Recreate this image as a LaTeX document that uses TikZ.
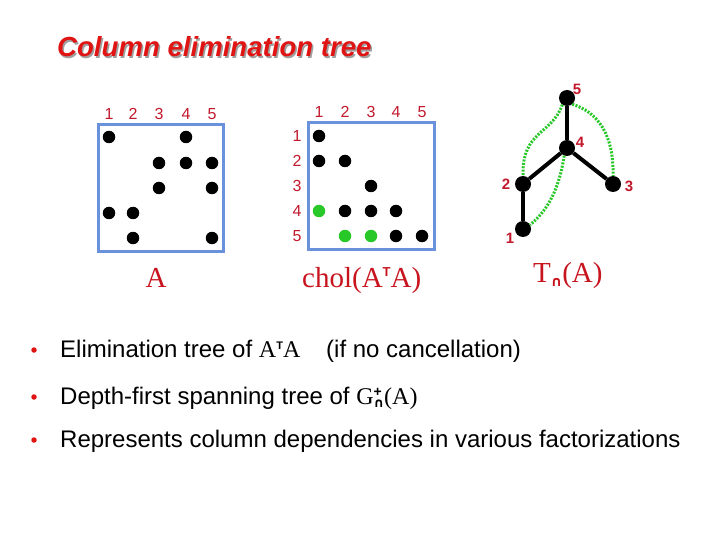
\documentclass[tikz,border=0pt]{standalone}
\usepackage{fontspec}
\setmainfont{Liberation Sans}
\newfontfamily\serif{Liberation Serif}
\newfontfamily\arial{Liberation Sans}
\newfontfamily\dejavu{DejaVu Sans}
\definecolor{titlered}{RGB}{225,20,20}
\definecolor{numred}{RGB}{195,25,45}
\definecolor{labred}{RGB}{200,20,30}
\definecolor{boxblue}{RGB}{105,145,220}
\definecolor{dotgreen}{RGB}{40,200,40}
\definecolor{shadowgray}{RGB}{160,160,160}
\newcommand{\Tsup}[2]{\raisebox{#2}{\arial\bfseries\fontsize{#1}{#1}\selectfont T}}
\newcommand{\capsub}[2]{\raisebox{-#2}{\dejavu\bfseries\fontsize{#1}{#1}\selectfont ∩}}
\tikzset{
  num/.style={text=numred, font=\fontsize{16}{16}\selectfont, inner sep=0pt},
  tnum/.style={text=numred, font=\fontsize{15}{15}\selectfont\bfseries, inner sep=0pt},
  ent/.style={circle, fill=black, minimum size=12.5pt, inner sep=0pt},
  gent/.style={ent, fill=dotgreen},
  mbox/.style={draw=boxblue, line width=3pt, inner sep=0pt},
  tnode/.style={circle, fill=black, minimum size=16pt, inner sep=0pt},
  tedge/.style={line width=4pt},
  gedge/.style={draw=dotgreen, line width=3pt, dash pattern=on 2pt off 1.4pt},
  lab/.style={text=labred, font=\serif\fontsize{29}{29}\selectfont, inner sep=0pt, anchor=base},
  bul/.style={circle, fill=titlered, minimum size=5.5pt, inner sep=0pt},
  btext/.style={font=\fontsize{24}{24}\selectfont, inner sep=0pt, anchor=base west},
  ttl/.style={font=\fontsize{27.6}{27.6}\selectfont\bfseries\itshape, inner sep=0pt, anchor=base west}
}
\begin{document}
\begin{tikzpicture}[x=1pt,y=-1pt]
\useasboundingbox[fill=white] (0,0) rectangle (720,540);
% title
\node[ttl, text=shadowgray] (titleshadow) at (58.5,58.5) {Column elimination tree};
\node[ttl, text=titlered] (title) at (57,57) {Column elimination tree};
% matrix A
\node[mbox, minimum width=125pt, minimum height=126pt] (boxA) at (160.5,188) {};
\foreach \c/\x in {1/109,2/133,3/159,4/186,5/212}
  \node[num] (ac\c) at (\x,114) {\c};
\foreach \r/\c/\x/\y in {1/1/109/137,1/4/186/137,2/3/159/163,2/4/186/163,2/5/212/163,
  3/3/159/188,3/5/212/188,4/1/109/213,4/2/133/213,5/2/133/238,5/5/212/238}
  \node[ent] (a\r\c) at (\x,\y) {};
\node[lab] (labA) at (156,287) {A};
% chol
\node[mbox, minimum width=126pt, minimum height=126pt] (boxC) at (371,186) {};
\foreach \c/\x in {1/319,2/345,3/371,4/396,5/422}
  \node[num] (cc\c) at (\x,112) {\c};
\foreach \r/\y in {1/136,2/161,3/186,4/211,5/236}
  \node[num] (cr\r) at (297,\y) {\r};
\foreach \r/\c/\x/\y in {1/1/319/136,2/1/319/161,2/2/345/161,3/3/371/186,
  4/2/345/211,4/3/371/211,4/4/396/211,5/4/396/236,5/5/422/236}
  \node[ent] (c\r\c) at (\x,\y) {};
\foreach \r/\c/\x/\y in {4/1/319/211,5/2/345/236,5/3/371/236}
  \node[gent] (c\r\c) at (\x,\y) {};
\node[lab, anchor=base west] (labC) at (302,287) {chol(A\Tsup{13}{10pt}A)};
% tree
\node[tnode] (n5) at (567,98) {};
\node[tnode] (n4) at (567,148) {};
\node[tnode] (n2) at (523,184) {};
\node[tnode] (n3) at (613,184) {};
\node[tnode] (n1) at (523,229) {};
\draw[tedge] (n5) -- (n4);
\draw[tedge] (n4) -- (n2);
\draw[tedge] (n4) -- (n3);
\draw[tedge] (n2) -- (n1);
\draw[gedge] (n5.235) .. controls (552,135) and (522,130) .. (n2.north);
\draw[gedge] (n5.-50) .. controls (598,112) and (614,135) .. (n3.north);
\draw[gedge] (n4.250) .. controls (558,195) and (545,212) .. (n1.30);
\node[tnum] (t5) at (577,89) {5};
\node[tnum] (t4) at (580,142) {4};
\node[tnum] (t2) at (506,184) {2};
\node[tnum] (t3) at (629,186) {3};
\node[tnum] (t1) at (510,238) {1};
\node[lab, anchor=base west] (labT) at (533,282) {T\capsub{14}{4pt}(A)};
% bullets
\node[bul] (b1) at (34,350) {};
\node[bul] (b2) at (34,397) {};
\node[bul] (b3) at (34,440) {};
\node[btext] (l1) at (60,357) {Elimination tree of {\serif A\Tsup{11}{8pt}A}\hspace{0.8em} (if no cancellation)};
\node[btext] (l2) at (60,404) {Depth-first spanning tree of {\serif G\rlap{\raisebox{8pt}{\arial\bfseries\fontsize{14}{14}\selectfont +}}\capsub{13}{3pt}(A)}};
\node[btext] (l3) at (60,447) {Represents column dependencies in various factorizations};
\end{tikzpicture}
\end{document}
